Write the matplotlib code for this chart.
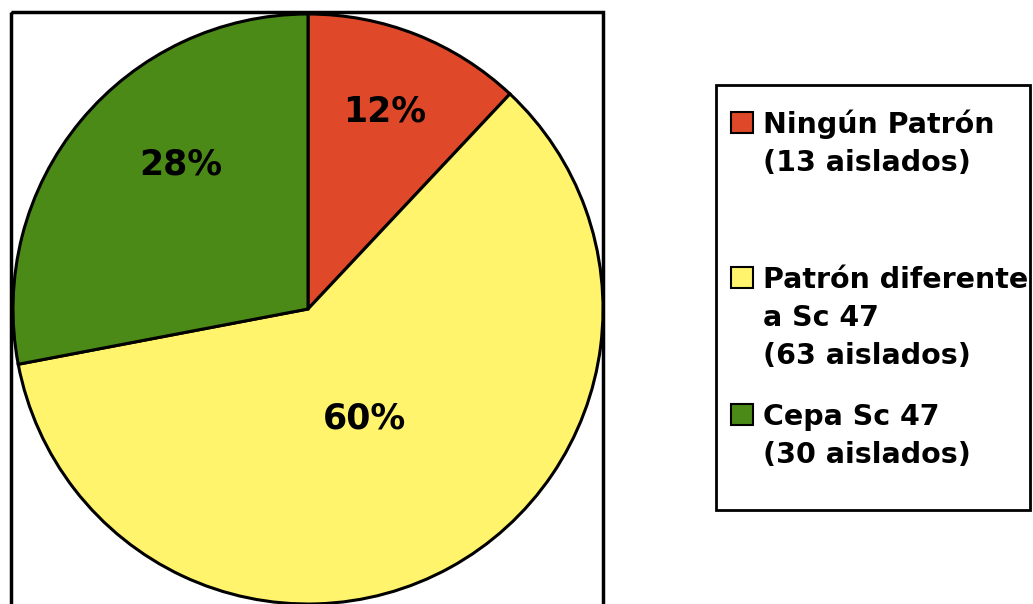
import matplotlib.pyplot as plt
from matplotlib.patches import Rectangle

# Datos del gráfico
categorias = ['Ningún Patrón\n(13 aislados)',
              'Patrón diferente\na Sc 47\n(63 aislados)',
              'Cepa Sc 47\n(30 aislados)']
porcentajes = [12, 60, 28]
colores = ['#E0482A', '#FFF46C', '#4B8A16']

# Posición de cada etiqueta de porcentaje (en radios, respecto al centro)
pos_etiquetas = [(0.26, 0.67), (0.19, -0.37), (-0.43, 0.49)]
# Posición vertical (px desde arriba) de la línea base de cada entrada
base_leyenda = [133, 288, 425]

W, H = 1033, 604
fig = plt.figure(figsize=(W / 100, H / 100), dpi=100)
fig.patch.set_facecolor('white')

# Capa en píxeles para el marco y la leyenda
lay = fig.add_axes([0, 0, 1, 1])
lay.set_xlim(0, W)
lay.set_ylim(H, 0)
lay.axis('off')

# Marco del área del gráfico
lay.add_patch(Rectangle((11, 12), 592, 600, fill=False,
                        edgecolor='black', linewidth=2.5, clip_on=False))

# Cuadro de la leyenda
lay.add_patch(Rectangle((716, 85), 314, 425, fill=False,
                        edgecolor='black', linewidth=2.0, clip_on=False))

interlineado = 38
for base, cat, col in zip(base_leyenda, categorias, colores):
    lay.add_patch(Rectangle((731, base - 21), 22, 21, facecolor=col,
                            edgecolor='black', linewidth=1.5))
    for j, linea in enumerate(cat.split('\n')):
        lay.text(763, base + j * interlineado, linea, fontsize=20.5,
                 fontweight='bold', color='black', ha='left',
                 va='baseline', family='DejaVu Sans')

# Gráfico de torta
cx, cy, r = 308, 309, 295
ax = fig.add_axes([(cx - r) / W, (H - cy - r) / H, 2 * r / W, 2 * r / H])
wedges, _ = ax.pie(porcentajes, colors=colores, startangle=90,
                   counterclock=False,
                   wedgeprops=dict(edgecolor='black', linewidth=2.2))
for w in wedges:
    w.set_clip_on(False)
ax.set_xlim(-1, 1)
ax.set_ylim(-1, 1)
ax.set_aspect('equal')

for (x, y), p in zip(pos_etiquetas, porcentajes):
    ax.text(x, y, f'{p}%', fontsize=25, fontweight='bold', color='black',
            ha='center', va='center', family='DejaVu Sans')

fig.savefig('out.png', dpi=100, facecolor='white')
